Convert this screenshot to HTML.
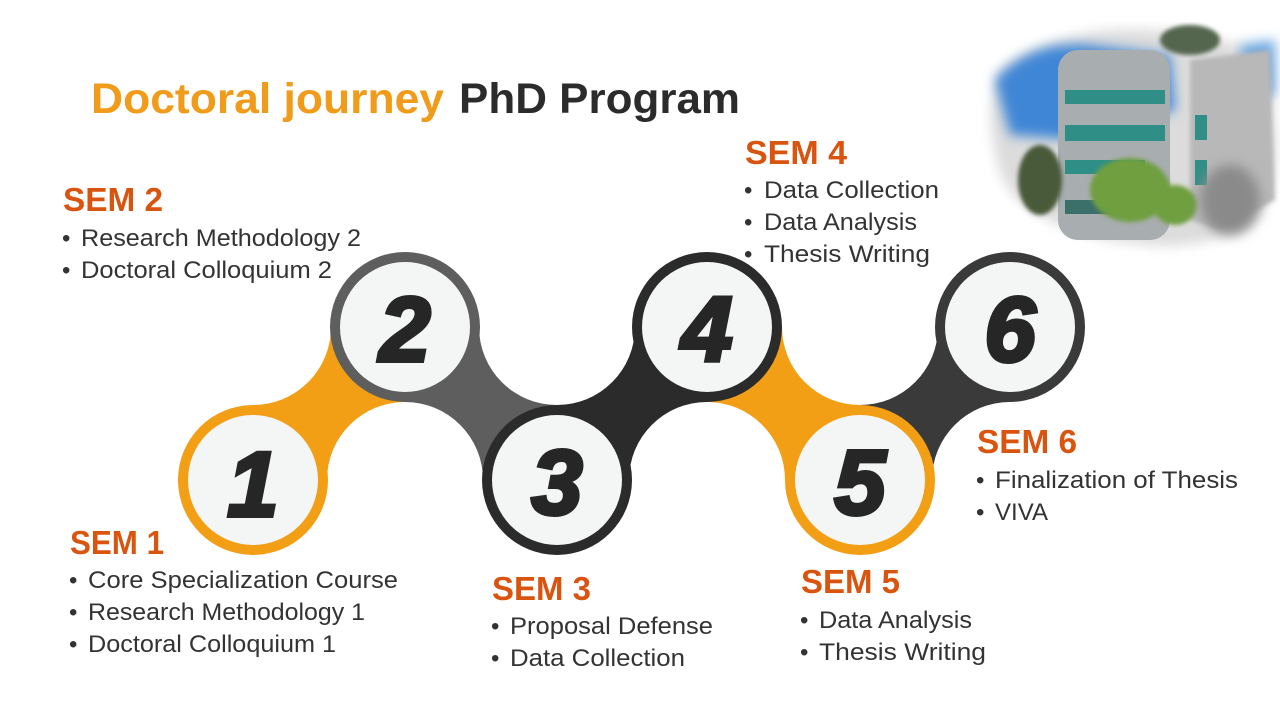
<!DOCTYPE html>
<html><head><meta charset="utf-8"><style>
html,body{margin:0;padding:0;background:#fff;}
svg{display:block;}
.b{font-family:"Liberation Sans",sans-serif;font-size:24px;fill:#333;}
.h{font-family:"Liberation Sans",sans-serif;font-size:33px;font-weight:bold;fill:#d9540f;}
.n{font-family:"Liberation Sans",sans-serif;font-size:92px;font-weight:bold;font-style:italic;fill:#262626;stroke:#262626;stroke-width:4;text-anchor:middle;}
</style></head><body>
<svg width="1280" height="720" viewBox="0 0 1280 720" xmlns="http://www.w3.org/2000/svg">
<defs>
<filter id="bl" x="-20%" y="-20%" width="140%" height="140%"><feGaussianBlur stdDeviation="6"/></filter>
<filter id="bl2"><feGaussianBlur stdDeviation="2"/></filter>
<mask id="m12"><rect x="253" y="327" width="152" height="153" fill="#fff"/><circle cx="253" cy="327" r="78"/><circle cx="405" cy="480" r="78"/></mask>
<mask id="m23"><rect x="405" y="327" width="152" height="153" fill="#fff"/><circle cx="557" cy="327" r="78"/><circle cx="405" cy="480" r="78"/></mask>
<mask id="m34"><rect x="557" y="327" width="150" height="153" fill="#fff"/><circle cx="557" cy="327" r="78"/><circle cx="707" cy="480" r="78"/></mask>
<mask id="m45"><rect x="707" y="327" width="153" height="153" fill="#fff"/><circle cx="860" cy="327" r="78"/><circle cx="707" cy="480" r="78"/></mask>
<mask id="m56"><rect x="860" y="327" width="150" height="153" fill="#fff"/><circle cx="860" cy="327" r="78"/><circle cx="1010" cy="480" r="78"/></mask>
</defs>

<!-- photo approximation -->
<g>
<path d="M1000 70 Q1060 25 1150 30 Q1230 35 1270 60 L1275 130 Q1280 200 1250 225 Q1200 250 1150 245 Q1080 240 1040 215 Q1000 195 995 150 Q985 110 1000 70Z" fill="#dcdcdc" filter="url(#bl)"/>
<path d="M995 80 Q1030 40 1090 45 L1170 55 L1175 110 L1080 140 L1010 135 Z" fill="#3f86d6" filter="url(#bl)"/>
<path d="M1240 45 L1275 40 L1275 95 L1245 100Z" fill="#6aa6e0" filter="url(#bl)"/>
<path d="M1190 60 L1270 50 L1275 200 L1220 230 L1190 220Z" fill="#b8b8b8" filter="url(#bl2)"/>
<rect x="1058" y="50" width="112" height="190" rx="20" fill="#a8adb0"/>
<rect x="1065" y="90" width="100" height="14" fill="#2f8f86"/>
<rect x="1065" y="125" width="100" height="16" fill="#2f8f86"/>
<rect x="1065" y="160" width="80" height="14" fill="#2f8f86"/>
<rect x="1065" y="200" width="80" height="14" fill="#3a6f6a"/>
<rect x="1195" y="115" width="12" height="25" fill="#2f8f86"/>
<rect x="1195" y="160" width="12" height="25" fill="#2f8f86"/>
<ellipse cx="1130" cy="190" rx="40" ry="32" fill="#6f9f3f" filter="url(#bl2)"/>
<ellipse cx="1040" cy="180" rx="22" ry="35" fill="#4a5a3a" filter="url(#bl2)"/>
<ellipse cx="1175" cy="205" rx="22" ry="20" fill="#6f9f3f" filter="url(#bl2)"/>
<ellipse cx="1190" cy="40" rx="30" ry="15" fill="#556650" filter="url(#bl2)"/>
<ellipse cx="1230" cy="200" rx="30" ry="35" fill="#8a8a8a" filter="url(#bl)"/>
</g>

<!-- title -->
<text x="91" y="113" font-family="Liberation Sans,sans-serif" font-size="43" font-weight="bold" fill="#f09c1a" textLength="353" lengthAdjust="spacingAndGlyphs">Doctoral journey</text>
<text x="459" y="113" font-family="Liberation Sans,sans-serif" font-size="43" font-weight="bold" fill="#2b2b2b" textLength="281" lengthAdjust="spacingAndGlyphs">PhD Program</text>

<!-- necks -->
<rect x="253" y="327" width="152" height="153" fill="#f29f16" mask="url(#m12)"/>
<rect x="405" y="327" width="152" height="153" fill="#5e5e5e" mask="url(#m23)"/>
<rect x="557" y="327" width="150" height="153" fill="#2b2b2b" mask="url(#m34)"/>
<rect x="707" y="327" width="153" height="153" fill="#f29f16" mask="url(#m45)"/>
<rect x="860" y="327" width="150" height="153" fill="#3a3a3a" mask="url(#m56)"/>

<!-- circles -->
<g>
<circle cx="253" cy="480" r="75" fill="#f29f16"/><circle cx="253" cy="480" r="65" fill="#f4f5f5"/>
<circle cx="405" cy="327" r="75" fill="#5e5e5e"/><circle cx="405" cy="327" r="65" fill="#f4f5f5"/>
<circle cx="557" cy="480" r="75" fill="#2b2b2b"/><circle cx="557" cy="480" r="65" fill="#f4f5f5"/>
<circle cx="707" cy="327" r="75" fill="#2b2b2b"/><circle cx="707" cy="327" r="65" fill="#f4f5f5"/>
<circle cx="860" cy="480" r="75" fill="#f29f16"/><circle cx="860" cy="480" r="65" fill="#f4f5f5"/>
<circle cx="1010" cy="327" r="75" fill="#3a3a3a"/><circle cx="1010" cy="327" r="65" fill="#f4f5f5"/>
</g>
<text class="n" x="253" y="516">1</text>
<text class="n" x="405" y="361">2</text>
<text class="n" x="557" y="514">3</text>
<text class="n" x="707" y="361">4</text>
<text class="n" x="860" y="514">5</text>
<text class="n" x="1010" y="361">6</text>

<!-- SEM 2 -->
<text class="h" x="63" y="211" textLength="100" lengthAdjust="spacingAndGlyphs">SEM 2</text>
<text class="b" x="62" y="246">•</text><text class="b" x="81" y="246" textLength="280" lengthAdjust="spacingAndGlyphs">Research Methodology 2</text>
<text class="b" x="62" y="278">•</text><text class="b" x="81" y="278" textLength="251" lengthAdjust="spacingAndGlyphs">Doctoral Colloquium 2</text>
<!-- SEM 4 -->
<text class="h" x="745" y="164" textLength="102" lengthAdjust="spacingAndGlyphs">SEM 4</text>
<text class="b" x="744" y="198">•</text><text class="b" x="764" y="198" textLength="175" lengthAdjust="spacingAndGlyphs">Data Collection</text>
<text class="b" x="744" y="230">•</text><text class="b" x="764" y="230" textLength="153" lengthAdjust="spacingAndGlyphs">Data Analysis</text>
<text class="b" x="744" y="262">•</text><text class="b" x="764" y="262" textLength="166" lengthAdjust="spacingAndGlyphs">Thesis Writing</text>
<!-- SEM 1 -->
<text class="h" x="70" y="554" textLength="94" lengthAdjust="spacingAndGlyphs">SEM 1</text>
<text class="b" x="69" y="588">•</text><text class="b" x="88" y="588" textLength="310" lengthAdjust="spacingAndGlyphs">Core Specialization Course</text>
<text class="b" x="69" y="620">•</text><text class="b" x="88" y="620" textLength="277" lengthAdjust="spacingAndGlyphs">Research Methodology 1</text>
<text class="b" x="69" y="652">•</text><text class="b" x="88" y="652" textLength="248" lengthAdjust="spacingAndGlyphs">Doctoral Colloquium 1</text>
<!-- SEM 3 -->
<text class="h" x="492" y="600" textLength="99" lengthAdjust="spacingAndGlyphs">SEM 3</text>
<text class="b" x="491" y="634">•</text><text class="b" x="510" y="634" textLength="203" lengthAdjust="spacingAndGlyphs">Proposal Defense</text>
<text class="b" x="491" y="666">•</text><text class="b" x="510" y="666" textLength="175" lengthAdjust="spacingAndGlyphs">Data Collection</text>
<!-- SEM 5 -->
<text class="h" x="801" y="593" textLength="99" lengthAdjust="spacingAndGlyphs">SEM 5</text>
<text class="b" x="800" y="628">•</text><text class="b" x="819" y="628" textLength="153" lengthAdjust="spacingAndGlyphs">Data Analysis</text>
<text class="b" x="800" y="660">•</text><text class="b" x="819" y="660" textLength="167" lengthAdjust="spacingAndGlyphs">Thesis Writing</text>
<!-- SEM 6 -->
<text class="h" x="977" y="453" textLength="100" lengthAdjust="spacingAndGlyphs">SEM 6</text>
<text class="b" x="976" y="488">•</text><text class="b" x="995" y="488" textLength="243" lengthAdjust="spacingAndGlyphs">Finalization of Thesis</text>
<text class="b" x="976" y="520">•</text><text class="b" x="995" y="520" textLength="53" lengthAdjust="spacingAndGlyphs">VIVA</text>
</svg>
</body></html>
